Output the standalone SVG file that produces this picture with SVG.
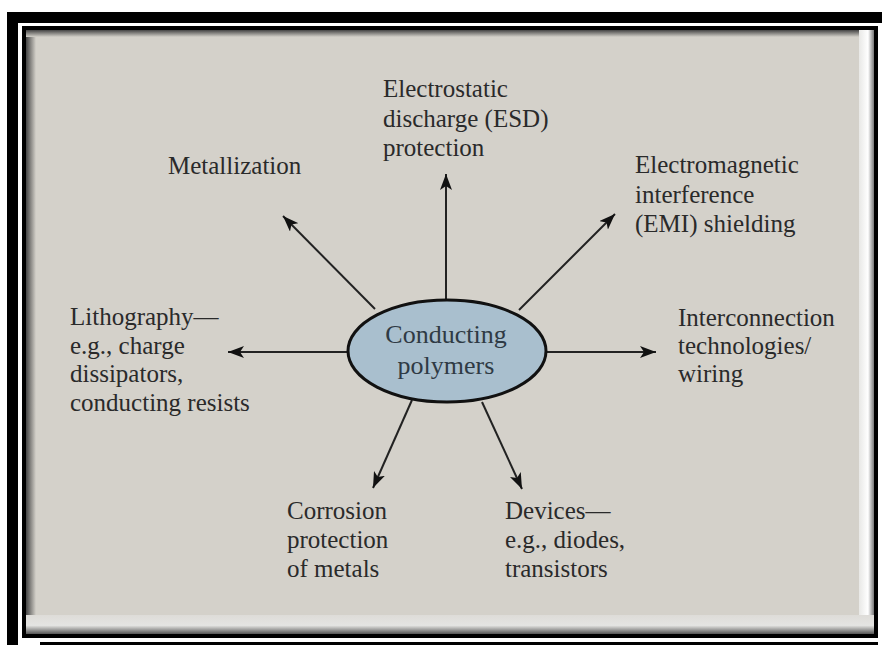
<svg xmlns="http://www.w3.org/2000/svg" width="882" height="645" viewBox="0 0 882 645">
<defs>
<style>
.lbl{font-family:"Liberation Serif","Times New Roman",serif;font-size:25px;fill:#2a2a2a;}
.ctr{font-family:"Liberation Serif","Times New Roman",serif;font-size:26px;fill:#2f3a44;text-anchor:middle;}
.con{stroke:#222;stroke-width:2;fill:none;marker-end:url(#ah);}
</style>
<marker id="ah" markerUnits="userSpaceOnUse" markerWidth="18" markerHeight="12" refX="16" refY="6" orient="auto">
<path d="M0,0 L16,6 L0,12 L4,6 Z" fill="#111"/>
</marker>
<linearGradient id="gl" x1="0" y1="0" x2="1" y2="0">
<stop offset="0" stop-color="#444"/><stop offset="1" stop-color="#d4d1ca"/>
</linearGradient>
<linearGradient id="gt" x1="0" y1="0" x2="0" y2="1">
<stop offset="0" stop-color="#444"/><stop offset="1" stop-color="#d4d1ca"/>
</linearGradient>
<linearGradient id="gr" x1="0" y1="0" x2="1" y2="0">
<stop offset="0" stop-color="#e8e8e6"/><stop offset="0.6" stop-color="#ffffff"/><stop offset="1" stop-color="#777"/>
</linearGradient>
<linearGradient id="gb" x1="0" y1="0" x2="0" y2="1">
<stop offset="0" stop-color="#dedcd8"/><stop offset="0.55" stop-color="#e4e4e2"/><stop offset="1" stop-color="#555"/>
</linearGradient>
</defs>
<rect width="882" height="645" fill="#fff"/>
<g id="frame">
<rect x="7" y="12" width="875" height="11" fill="#000"/>
<rect x="7" y="12" width="11" height="633" fill="#000"/>
<rect x="40" y="642" width="838" height="3" fill="#000"/>
<rect x="22" y="26" width="856" height="612" fill="#000"/>
<rect x="26" y="30" width="848" height="604" fill="#d4d1ca"/>
<rect x="26" y="30" width="10" height="604" fill="url(#gl)"/>
<rect x="26" y="30" width="848" height="7" fill="url(#gt)"/>
<rect x="859" y="30" width="15" height="604" fill="url(#gr)"/>
<rect x="26" y="615" width="848" height="19" fill="url(#gb)"/>
<rect x="36" y="37" width="823" height="578" fill="#d4d1ca"/>
</g>
<g id="connectors">
<line class="con" x1="446" y1="300" x2="446" y2="174"/>
<line class="con" x1="375" y1="309" x2="283" y2="216"/>
<line class="con" x1="519" y1="310" x2="615" y2="214"/>
<line class="con" x1="348" y1="352" x2="228" y2="352"/>
<line class="con" x1="546" y1="352" x2="656" y2="352"/>
<line class="con" x1="412" y1="400" x2="373" y2="488"/>
<line class="con" x1="482" y1="402" x2="522" y2="489"/>
</g>
<g id="center">
<ellipse cx="447" cy="351" rx="99" ry="51" fill="#a9bfce" stroke="#111" stroke-width="3"/>
<text class="ctr" x="446" y="343">Conducting</text>
<text class="ctr" x="446" y="374">polymers</text>
</g>
<g id="esd">
<text class="lbl" x="383" y="97">Electrostatic</text>
<text class="lbl" x="383" y="127">discharge (ESD)</text>
<text class="lbl" x="383" y="156">protection</text>
</g>
<g id="metallization">
<text class="lbl" x="168" y="174">Metallization</text>
</g>
<g id="emi">
<text class="lbl" x="635" y="173">Electromagnetic</text>
<text class="lbl" x="635" y="203">interference</text>
<text class="lbl" x="635" y="232">(EMI) shielding</text>
</g>
<g id="lithography">
<text class="lbl" x="70" y="325">Lithography—</text>
<text class="lbl" x="70" y="354">e.g., charge</text>
<text class="lbl" x="70" y="382">dissipators,</text>
<text class="lbl" x="70" y="411">conducting resists</text>
</g>
<g id="interconnection">
<text class="lbl" x="678" y="326">Interconnection</text>
<text class="lbl" x="678" y="354">technologies/</text>
<text class="lbl" x="678" y="382">wiring</text>
</g>
<g id="corrosion">
<text class="lbl" x="287" y="519">Corrosion</text>
<text class="lbl" x="287" y="548">protection</text>
<text class="lbl" x="287" y="577">of metals</text>
</g>
<g id="devices">
<text class="lbl" x="505" y="519">Devices—</text>
<text class="lbl" x="505" y="548">e.g., diodes,</text>
<text class="lbl" x="505" y="577">transistors</text>
</g>
</svg>
